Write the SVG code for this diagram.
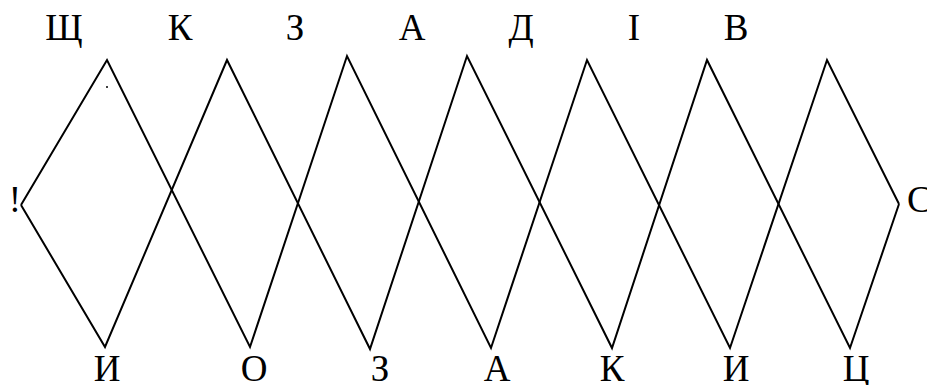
<svg xmlns="http://www.w3.org/2000/svg" width="927" height="385" viewBox="0 0 927 385">
<style>
.lbl{font-family:"Liberation Serif","Times New Roman",serif;font-size:37px;fill:#000;text-anchor:middle}
.ln{fill:none;stroke:#000;stroke-width:2;stroke-linejoin:miter}
</style>
<rect width="927" height="385" fill="#fff"/>
<g id="connectors">
<polyline class="ln" points="21,205 107,60 250,347 347,56 491,348 587,60 730,348 827,60 899,204"/>
<polyline class="ln" points="21,205 105,347 227,60 370,349 467,56 612,348 707,60 850,348 899,204"/>
<circle cx="107" cy="87" r="1" fill="#000"/>
</g>
<g id="top-labels">
<text class="lbl" x="64" y="40">Щ</text>
<text class="lbl" x="180" y="40">К</text>
<text class="lbl" x="295" y="40">З</text>
<text class="lbl" x="412" y="40">А</text>
<text class="lbl" x="521" y="40">Д</text>
<text class="lbl" x="634" y="40">І</text>
<text class="lbl" x="736" y="40">В</text>
</g>
<g id="bottom-labels">
<text class="lbl" x="107" y="381">И</text>
<text class="lbl" x="254" y="381">О</text>
<text class="lbl" x="380" y="381">З</text>
<text class="lbl" x="497" y="381">А</text>
<text class="lbl" x="612" y="381">К</text>
<text class="lbl" x="736" y="381">И</text>
<text class="lbl" x="856" y="381">Ц</text>
</g>
<g id="side-labels">
<text class="lbl" x="15" y="212">!</text>
<text class="lbl" x="907" y="212" style="text-anchor:start">С</text>
</g>
</svg>
